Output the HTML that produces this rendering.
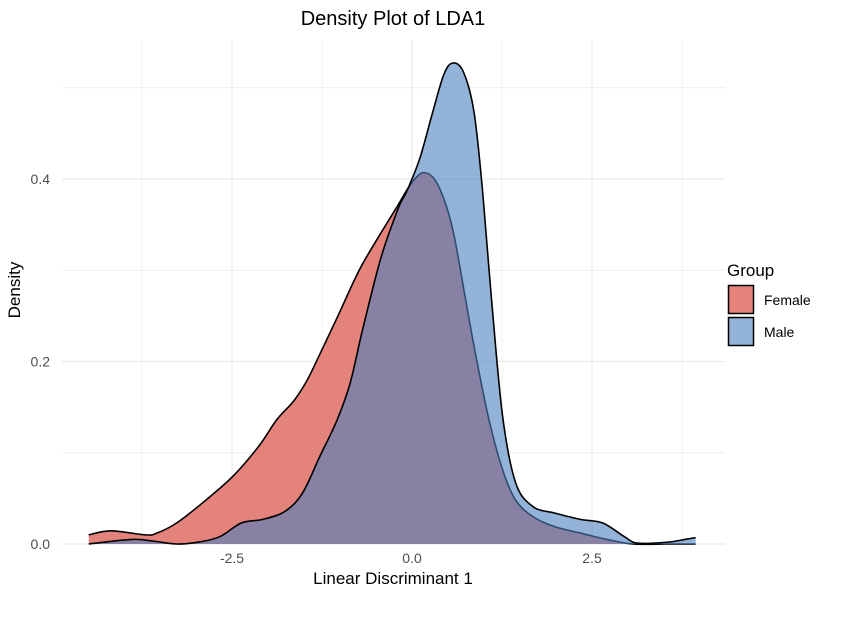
<!DOCTYPE html>
<html><head><meta charset="utf-8"><style>
body{margin:0;background:#fff;}
svg{display:block;font-family:"Liberation Sans",sans-serif;}
</style></head><body>
<svg width="851" height="617" viewBox="0 0 851 617">
<g id="grid"></g>
<g id="series"></g>
<g id="axes"></g>
<text x="393" y="25" text-anchor="middle" font-size="20" fill="#000">Density Plot of LDA1</text>
<text x="393" y="584" text-anchor="middle" font-size="17" fill="#000">Linear Discriminant 1</text>
<text transform="translate(20,290) rotate(-90)" text-anchor="middle" font-size="17" fill="#000">Density</text>
<g>
<text x="727" y="276" font-size="17" fill="#000">Group</text>
<g>
<rect x="728.5" y="285.5" width="25" height="28" fill="#E3837B" stroke="#000" stroke-width="1.5"/>
<text x="764" y="305" font-size="14" fill="#000">Female</text></g>
<g>
<rect x="728.5" y="317.5" width="25" height="28" fill="#93B3D8" stroke="#000" stroke-width="1.5"/>
<text x="764" y="337" font-size="14" fill="#000">Male</text></g>
</g>
</svg>
<script>
const xTicks=[-2.5,0,2.5];
const xTickLabels=["-2.5","0.0","2.5"];
const yTicks=[0,0.2,0.4];
const yTickLabels=["0.0","0.2","0.4"];
const femaleX=[-4.49,-4.18,-3.70,-3.54,-3.27,-2.91,-2.49,-2.13,-1.88,-1.64,-1.46,-1.28,-1.04,-0.74,-0.50,-0.22,-0.07,0.05,0.17,0.32,0.47,0.59,0.74,0.89,1.07,1.26,1.44,1.68,1.98,2.34,2.71,3.07,3.55,3.94];
const femaleY=[0.010,0.0145,0.010,0.012,0.023,0.045,0.074,0.107,0.136,0.157,0.179,0.208,0.248,0.299,0.332,0.368,0.388,0.401,0.407,0.399,0.372,0.336,0.270,0.205,0.136,0.081,0.048,0.030,0.019,0.012,0.005,0.0,0.0,0.0];
const maleX=[-4.49,-3.88,-3.58,-3.27,-2.97,-2.67,-2.37,-2.07,-1.76,-1.52,-1.28,-1.04,-0.86,-0.68,-0.43,-0.19,-0.07,0.11,0.29,0.44,0.56,0.71,0.86,0.98,1.11,1.26,1.44,1.68,1.98,2.34,2.65,2.95,3.13,3.55,3.79,3.94];
const maleY=[0.0,0.005,0.003,0.0,0.002,0.008,0.023,0.027,0.036,0.056,0.096,0.136,0.176,0.237,0.314,0.368,0.387,0.423,0.474,0.514,0.527,0.518,0.474,0.387,0.263,0.139,0.067,0.041,0.034,0.027,0.023,0.008,0.001,0.002,0.005,0.007];
const NS='http://www.w3.org/2000/svg';
const L=62,R=725,T=40,B=544;
function sx(v){return 412+v*72;}
function sy(v){return 544-v*912.5;}
function mk(t,a,p){const e=document.createElementNS(NS,t);for(const k in a)e.setAttribute(k,a[k]);p.appendChild(e);return e;}
const grid=document.getElementById('grid'),axes=document.getElementById('axes'),series=document.getElementById('series');
for(let v=-3.75;v<=3.76;v+=1.25){const major=Math.abs((v/2.5)-Math.round(v/2.5))<1e-6;
 const l=mk('line',{x1:sx(v),x2:sx(v),y1:T,y2:B,stroke:'#ebebeb','stroke-width':major?1.3:0.7},grid);
 
 }
for(let v=0;v<=0.51;v+=0.1){const major=Math.round(v*10)%2===0;
 const l=mk('line',{x1:L,x2:R,y1:sy(v),y2:sy(v),stroke:'#ebebeb','stroke-width':major?1.3:0.7},grid);
 
 }
xTicks.forEach((v,i)=>{const t=mk('text',{x:sx(v),y:563,'text-anchor':'middle','font-size':14,fill:'#4d4d4d'},axes);t.textContent=xTickLabels[i];
 
 });
yTicks.forEach((v,i)=>{const t=mk('text',{x:50,y:sy(v)+5,'text-anchor':'end','font-size':14,fill:'#4d4d4d'},axes);t.textContent=yTickLabels[i];
 
 });
function curve(xs,ys){const p=xs.map((x,i)=>[sx(x),sy(ys[i])]);let d='M'+p[0][0]+','+p[0][1];
 for(let i=0;i<p.length-1;i++){const p0=p[Math.max(0,i-1)],p1=p[i],p2=p[i+1],p3=p[Math.min(p.length-1,i+2)];
 const c1=[p1[0]+(p2[0]-p0[0])/6,p1[1]+(p2[1]-p0[1])/6],c2=[p2[0]-(p3[0]-p1[0])/6,p2[1]-(p3[1]-p1[1])/6];
 d+=' C'+c1[0]+','+c1[1]+' '+c2[0]+','+c2[1]+' '+p2[0]+','+p2[1];}return {d,p};}
function area(xs,ys,fill,op,name){const c=curve(xs,ys);const a=mk('path',{d:c.d+' L'+c.p[c.p.length-1][0]+','+sy(0)+' L'+c.p[0][0]+','+sy(0)+' Z',fill:fill,'fill-opacity':op,stroke:'none'},series);
 
 
 const l=mk('path',{d:c.d,fill:'none',stroke:'#000','stroke-width':1.6},series);
 
 }
area(femaleX,femaleY,'#E3837B',1,'female-density');
area(maleX,maleY,'rgb(75,128,190)',0.6,'male-density');
</script>
</body></html>
